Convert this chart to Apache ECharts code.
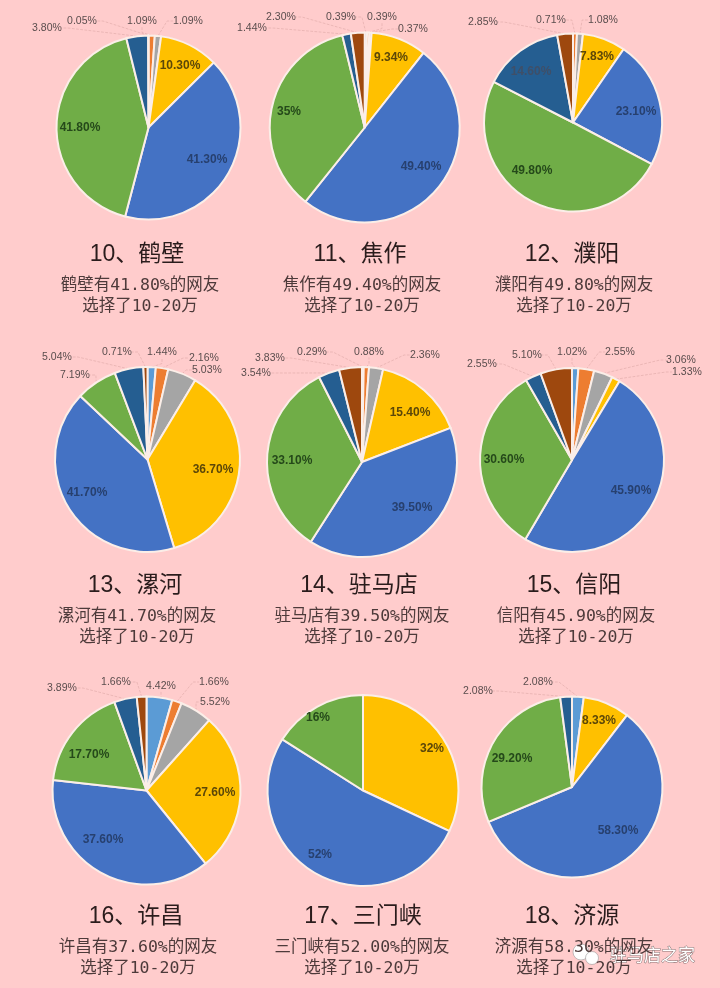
<!DOCTYPE html>
<html>
<head>
<meta charset="utf-8">
<style>
html, body { margin: 0; padding: 0; background: #ffcccc; }
#chart { width: 720px; height: 988px; }
</style>
</head>
<body>
<div id="chart"></div>
<script src="https://cdn.jsdelivr.net/npm/echarts@6/dist/echarts.min.js"></script>
<script>
const ranks = [10, 11, 12, 13, 14, 15, 16, 17, 18];
const cities = ['鹤壁', '焦作', '濮阳', '漯河', '驻马店', '信阳', '许昌', '三门峡', '济源'];
const headline = ['41.80', '49.40', '49.80', '41.70', '39.50', '45.90', '37.60', '52.00', '58.30'];

// slices run clockwise from 12 o'clock, same order as sliceColors
const hebi = [0, 1.09, 1.09, 10.3, 41.3, 41.8, 3.8, 0.05];
const jiaozuo = [0.39, 0.39, 0.37, 9.34, 49.4, 35, 1.44, 2.3];
const puyang = [0, 0.71, 1.08, 7.83, 23.1, 49.8, 14.6, 2.85];
const luohe = [1.44, 2.16, 5.03, 36.7, 41.7, 7.19, 5.04, 0.71];
const zhumadian = [0.29, 0.88, 2.36, 15.4, 39.5, 33.1, 3.54, 3.83];
const xinyang = [1.02, 2.55, 3.06, 1.33, 45.9, 30.6, 2.55, 5.1];
const xuchang = [4.42, 1.66, 5.52, 27.6, 37.6, 17.7, 3.89, 1.66];
const sanmenxia = [0, 0, 0, 32, 52, 16, 0, 0];
const jiyuan = [2.08, 0, 0, 8.33, 58.3, 29.2, 2.08, 0];
const cityValues = [hebi, jiaozuo, puyang, luohe, zhumadian, xinyang, xuchang, sanmenxia, jiyuan];

const sliceColors = ['#5b9bd5', '#ed7d31', '#a5a5a5', '#ffc000', '#4472c4', '#70ad47', '#255e91', '#9e480e'];
const insideInk = ['#333', '#333', '#333', '#5c4708', '#27406f', '#25491a', '#3f4f68', '#333'];
const INSIDE_MIN = 7.5;

// layout only: cx, cy, radius
const pieSpots = [
    [148.5, 127.5, 92], [364.7, 127.5, 95], [573, 122.5, 89],
    [147.5, 459.5, 92.5], [362, 462, 95], [572, 460, 92],
    [146.5, 790.5, 94], [363, 790.5, 95.5], [572, 787, 90.5]
];
// layout only: title x, title y, sub x, sub y
const textSpots = [
    [137, 255, 140, 296], [360, 255, 362, 296], [572, 255, 574, 296],
    [135, 586, 137, 627], [359, 586, 362, 627], [574, 586, 576, 627],
    [136, 917, 138, 958], [363, 917, 362, 958], [572, 917, 574, 958]
];
// layout only: label centres per slice
const labelSpots = [
    [null, [142, 21], [188, 21], [180, 66], [207, 160], [80, 128], [47, 28], [82, 21]],
    [[341, 17], [382, 17], [413, 29], [391, 58], [421, 167], [289, 112], [252, 28], [281, 17]],
    [null, [551, 20], [603, 20], [597, 57], [636, 112], [532, 171], [531, 72], [483, 22]],
    [[162, 352], [204, 358], [207, 370], [213, 470], [87, 493], [75, 375], [57, 357], [117, 352]],
    [[312, 352], [369, 352], [425, 355], [410, 413], [412, 508], [292, 461], [256, 373], [270, 358]],
    [[572, 352], [620, 352], [681, 360], [687, 372], [631, 491], [504, 460], [482, 364], [527, 355]],
    [[161, 686], [214, 682], [215, 702], [215, 793], [103, 840], [89, 755], [62, 688], [116, 682]],
    [null, null, null, [432, 749], [320, 855], [318, 718], null, null],
    [[538, 682], null, null, [599, 721], [618, 831], [512, 759], [478, 691], null]
];

function percentText(v) {
    return (Number.isInteger(v) ? v : v.toFixed(2)) + '%';
}

function buildSeries(values, i) {
    const spots = [];
    const data = [];
    values.forEach((v, k) => {
        if (v <= 0) {
            return;
        }
        const inside = v >= INSIDE_MIN;
        spots.push(labelSpots[i][k]);
        data.push({
            value: v,
            itemStyle: { color: sliceColors[k] },
            label: inside
                ? { position: 'inside', fontSize: 12, fontWeight: 'bold', color: insideInk[k] }
                : { position: 'outside', fontSize: 10.5, color: '#5a4d4d' },
            labelLine: { show: !inside }
        });
    });
    return {
        type: 'pie',
        animation: false,
        silent: true,
        startAngle: 90,
        clockwise: true,
        avoidLabelOverlap: false,
        center: [pieSpots[i][0], pieSpots[i][1]],
        radius: pieSpots[i][2],
        itemStyle: { borderColor: '#fbeee8', borderWidth: 2 },
        label: {
            fontFamily: '"Liberation Sans", sans-serif',
            formatter: p => percentText(p.value)
        },
        labelLine: {
            length: 8,
            length2: 6,
            lineStyle: { color: '#e3aeac', width: 0.7, type: 'dashed' }
        },
        labelLayout(p) {
            const spot = spots[p.dataIndex];
            return { x: spot[0], y: spot[1], align: 'center', verticalAlign: 'middle' };
        },
        data
    };
}

const textFont = '"DejaVu Sans Mono", "Noto Sans CJK SC", sans-serif';
const titles = [];
cities.forEach((city, i) => {
    const s = textSpots[i];
    titles.push({
        text: ranks[i] + '、' + city,
        left: s[0],
        top: s[1] - 16,
        textAlign: 'center',
        padding: 0,
        textStyle: {
            fontFamily: '"Liberation Sans", "Noto Sans CJK SC", sans-serif',
            fontSize: 23,
            fontWeight: 'normal',
            color: '#2a1c1c',
            lineHeight: 32
        }
    });
    titles.push({
        text: city + '有' + headline[i] + '%的网友\n选择了10-20万',
        left: s[2],
        top: s[3] - 21,
        textAlign: 'center',
        padding: 0,
        textStyle: {
            fontFamily: textFont,
            fontSize: 16.5,
            fontWeight: 'normal',
            color: '#4d3a3a',
            lineHeight: 21
        }
    });
});

const chart = echarts.init(document.getElementById('chart'), null, { renderer: 'canvas' });
chart.setOption({
    backgroundColor: '#ffcccc',
    title: titles,
    series: cityValues.map(buildSeries),
    graphic: [
        { type: 'circle', shape: { cx: 581, cy: 952, r: 8 }, style: { fill: '#fff', stroke: '#999', lineWidth: 0.6 } },
        { type: 'circle', shape: { cx: 592, cy: 958, r: 6.5 }, style: { fill: '#fff', stroke: '#999', lineWidth: 0.6 } },
        {
            type: 'text',
            x: 610,
            y: 955,
            style: {
                text: '驻马店之家',
                fontFamily: '"Noto Sans CJK SC", sans-serif',
                fontSize: 17,
                fill: '#fff',
                stroke: '#8a7676',
                lineWidth: 1,
                verticalAlign: 'middle'
            }
        }
    ]
});
</script>
</body>
</html>
